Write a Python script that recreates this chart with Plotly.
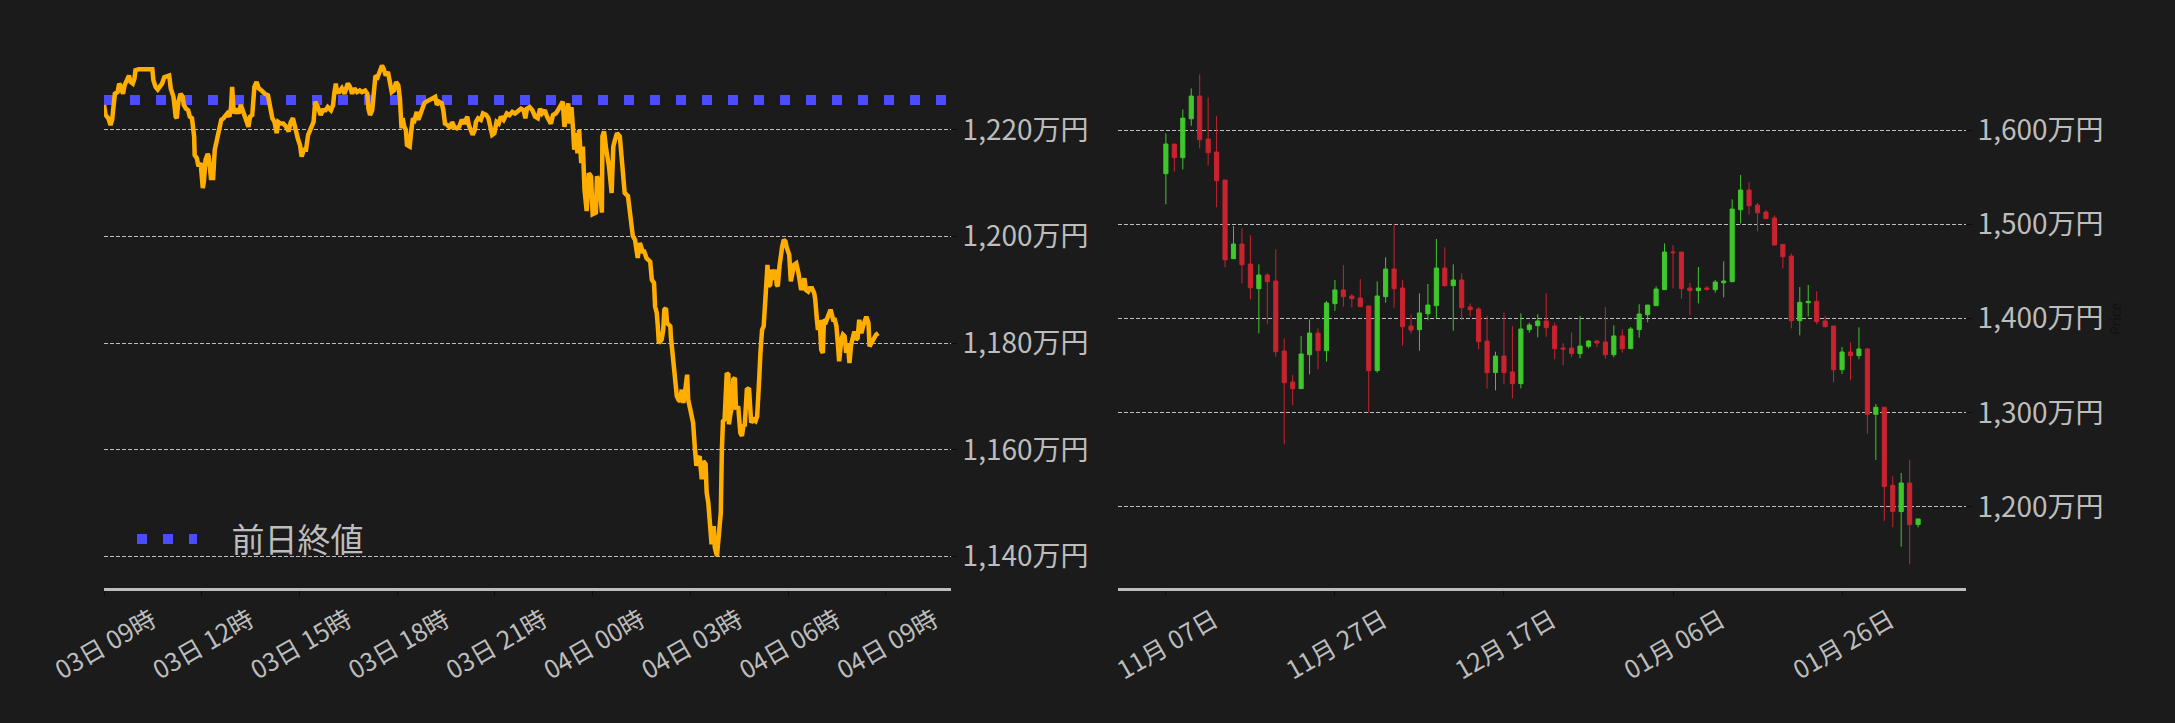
import pandas as pd
import plotly.graph_objects as go

# ---------------- Left panel: intraday price (万円) ----------------
intraday_start = "2026-02-03 09:00"
left_range = ["2026-02-03 09:00", "2026-02-04 11:00"]
prev_close = 1225.6
prev_close_name = "\u00a0\u00a0\u00a0\u00a0前日終値"

line_minutes = [
    0, 3, 8, 12, 15, 18, 20, 25, 28, 31,
    35, 38, 43, 46, 49, 53, 56, 58, 64, 74,
    84, 89, 91, 95, 99, 104, 107, 111, 117, 120,
    123, 128, 132, 134, 137, 141, 145, 147, 151, 155,
    158, 162, 166, 167, 171, 174, 178, 182, 184, 187,
    191, 193, 197, 201, 204, 208, 212, 216, 220, 224,
    227, 231, 234, 236, 239, 243, 248, 252, 256, 260,
    263, 266, 269, 273, 277, 281, 285, 290, 296, 302,
    306, 310, 314, 318, 321, 325, 330, 335, 340, 344,
    348, 353, 357, 361, 364, 368, 372, 376, 381, 386,
    389, 394, 399, 403, 408, 412, 418, 422, 424, 427,
    429, 433, 438, 443, 447, 449, 453, 457, 461, 466,
    471, 475, 481, 485, 487, 490, 494, 498, 500, 504,
    508, 512, 515, 519, 523, 527, 530, 534, 538, 542,
    545, 548, 550, 553, 556, 558, 563, 566, 569, 572,
    576, 579, 582, 586, 590, 593, 599, 605, 610, 613,
    617, 622, 625, 628, 633, 638, 641, 645, 650, 654,
    659, 664, 669, 672, 676, 679, 683, 685, 689, 694,
    698, 704, 708, 712, 715, 719, 723, 727, 731, 736,
    742, 747, 752, 757, 763, 768, 773, 776, 779, 784,
    789, 794, 799, 803, 807, 812, 816, 820, 823, 827,
    832, 836, 840, 845, 848, 852, 855, 858, 861, 864,
    866, 869, 872, 875, 879, 882, 885, 889, 893, 897,
    900, 906, 908, 912, 917, 918, 921, 925, 930, 935,
    938, 941, 945, 950, 953, 956, 959, 965, 969, 974,
    978, 981, 983, 987, 992, 995, 999, 1003, 1006, 1009,
    1013, 1015, 1018, 1020, 1022, 1027, 1030, 1032, 1035, 1037,
    1039, 1043, 1044, 1047, 1049, 1052, 1055, 1058, 1061, 1064,
    1067, 1070, 1074, 1076, 1079, 1082, 1085, 1088, 1091, 1093,
    1097, 1101, 1104, 1108, 1110, 1113, 1116, 1119, 1123, 1125,
    1129, 1131, 1134, 1136, 1138, 1140, 1143, 1145, 1147, 1150,
    1151, 1154, 1157, 1159, 1162, 1164, 1168, 1172, 1175, 1178,
    1180, 1184, 1188, 1190, 1192, 1196, 1200, 1203, 1205, 1207,
    1209, 1212, 1215, 1217, 1219, 1222, 1224, 1227, 1230, 1234,
    1237, 1239, 1241, 1244, 1246, 1249, 1252, 1255, 1257, 1260,
    1262, 1265, 1267, 1271, 1275, 1277, 1279, 1282, 1284, 1288,
    1290, 1293, 1297, 1300, 1304, 1308, 1310, 1313, 1315, 1318,
    1321, 1324, 1326, 1330, 1333, 1337, 1339, 1343, 1346, 1349,
    1352, 1354, 1358, 1361, 1364, 1367, 1370, 1373, 1376, 1380,
    1382, 1385, 1388, 1391, 1395, 1398, 1401, 1404, 1408, 1410,
    1413, 1417, 1419, 1422, 1426,
]

line_price = [
    1224.7, 1222.8, 1222.2, 1220.9, 1221.9, 1224.3, 1226.8, 1227.1, 1228.7, 1228.1,
    1226.8, 1228.4, 1229.6, 1230.2, 1229.0, 1228.7, 1229.6, 1231.2, 1231.4, 1231.4,
    1231.4, 1231.4, 1229.3, 1228.1, 1227.6, 1228.4, 1228.7, 1229.9, 1230.2, 1230.2,
    1227.8, 1226.2, 1222.5, 1222.2, 1225.3, 1226.8, 1226.2, 1224.7, 1224.0, 1223.7,
    1222.5, 1222.2, 1218.8, 1215.3, 1214.7, 1213.2, 1213.8, 1209.1, 1210.4, 1214.4,
    1215.5, 1215.0, 1211.0, 1211.0, 1216.3, 1218.1, 1220.3, 1221.9, 1222.2, 1222.8,
    1223.1, 1222.5, 1224.3, 1228.1, 1223.1, 1224.0, 1223.1, 1224.7, 1223.7, 1222.5,
    1221.5, 1220.6, 1222.5, 1222.8, 1228.1, 1229.0, 1227.8, 1227.4, 1226.8, 1226.5,
    1224.0, 1222.2, 1221.5, 1219.4, 1221.5, 1221.2, 1221.2, 1220.7, 1219.7, 1221.5,
    1222.2, 1219.7, 1218.4, 1217.2, 1215.0, 1216.3, 1216.3, 1219.1, 1220.6, 1221.5,
    1225.3, 1224.3, 1222.8, 1223.7, 1223.7, 1224.3, 1223.7, 1224.7, 1226.8, 1228.7,
    1227.1, 1227.1, 1227.8, 1226.8, 1228.1, 1228.7, 1228.1, 1226.8, 1227.8, 1227.1,
    1227.4, 1227.1, 1227.4, 1226.8, 1224.0, 1222.8, 1223.7, 1227.4, 1230.2, 1229.9,
    1230.9, 1232.1, 1231.5, 1230.2, 1230.9, 1228.7, 1227.1, 1227.4, 1229.0, 1228.4,
    1225.9, 1220.3, 1222.2, 1220.6, 1220.0, 1217.2, 1216.9, 1220.0, 1222.2, 1221.9,
    1223.4, 1221.9, 1222.8, 1224.3, 1225.0, 1225.3, 1225.6, 1225.9, 1226.2, 1224.7,
    1225.3, 1225.0, 1223.7, 1221.2, 1220.9, 1220.3, 1221.5, 1220.6, 1220.3, 1220.6,
    1221.9, 1221.2, 1222.5, 1220.9, 1220.0, 1219.1, 1220.0, 1221.5, 1222.2, 1221.9,
    1223.1, 1222.8, 1222.2, 1220.6, 1219.1, 1219.4, 1221.5, 1221.2, 1222.5, 1221.9,
    1223.1, 1222.8, 1223.4, 1223.1, 1223.7, 1224.0, 1223.7, 1222.2, 1224.0, 1224.3,
    1223.7, 1222.5, 1222.2, 1224.0, 1223.1, 1223.7, 1222.5, 1221.9, 1221.2, 1222.8,
    1223.1, 1223.7, 1224.3, 1225.3, 1220.6, 1223.7, 1225.0, 1221.2, 1224.3, 1220.0,
    1216.3, 1219.4, 1215.6, 1220.0, 1213.8, 1216.9, 1208.8, 1204.8, 1211.9, 1211.3,
    1204.2, 1204.5, 1211.3, 1210.4, 1204.5, 1218.8, 1219.7, 1216.3, 1213.2, 1208.2,
    1216.9, 1218.1, 1219.4, 1218.8, 1214.4, 1211.3, 1208.2, 1207.6, 1203.9, 1200.1,
    1199.4, 1197.5, 1196.0, 1198.8, 1197.2, 1197.2, 1196.0, 1195.6, 1195.3, 1191.9,
    1191.3, 1186.9, 1185.7, 1183.2, 1180.0, 1180.7, 1182.5, 1186.3, 1186.6, 1183.8,
    1183.5, 1183.2, 1181.3, 1178.2, 1174.4, 1171.9, 1170.1, 1169.4, 1169.1, 1171.3,
    1168.8, 1170.7, 1174.1, 1169.4, 1167.6, 1165.7, 1165.1, 1160.7, 1157.0, 1158.2,
    1158.8, 1154.5, 1157.9, 1157.3, 1152.0, 1150.1, 1146.0, 1142.3, 1145.7, 1141.7,
    1140.1, 1142.6, 1147.0, 1148.2, 1160.1, 1165.4, 1165.7, 1169.4, 1174.4, 1174.1,
    1164.8, 1166.9, 1168.2, 1173.2, 1173.5, 1167.6, 1168.2, 1163.2, 1162.6, 1164.8,
    1164.4, 1171.3, 1171.6, 1168.2, 1165.1, 1165.7, 1165.4, 1166.3, 1172.6, 1173.8,
    1178.2, 1182.5, 1183.2, 1188.2, 1189.7, 1194.7, 1190.7, 1191.0, 1193.8, 1191.9,
    1193.8, 1191.0, 1190.7, 1194.4, 1196.3, 1198.1, 1199.4, 1199.1, 1198.1, 1197.2,
    1196.6, 1191.6, 1192.5, 1194.7, 1195.0, 1194.4, 1193.2, 1191.3, 1190.0, 1191.0,
    1192.2, 1190.0, 1189.7, 1190.3, 1190.3, 1189.4, 1188.2, 1184.4, 1182.5, 1184.4,
    1178.8, 1178.2, 1184.4, 1184.1, 1185.0, 1186.0, 1186.0, 1184.4, 1184.4, 1183.2,
    1179.4, 1176.6, 1180.7, 1181.6, 1181.3, 1178.2, 1180.0, 1176.3, 1179.7, 1181.3,
    1182.2, 1180.7, 1181.0, 1184.4, 1181.9, 1183.2, 1184.1, 1185.0, 1183.8, 1179.4,
    1180.0, 1180.7, 1181.3, 1181.6, 1181.9,
]

left_y_range = [1134.1, 1235.0]
left_y_tick0, left_y_dtick = 1140, 20

# ---------------- Right panel: daily candles (万円) ----------------
candle_start = "2025-11-07"
candle_open = [
    1553.7, 1585.2, 1570.7, 1612.0, 1636.1, 1590.5, 1576.7, 1547.0, 1463.5, 1479.1,
    1457.8, 1431.7, 1446.2, 1439.8, 1365.5, 1332.6, 1325.6, 1361.6, 1384.6, 1365.9,
    1415.8, 1430.3, 1423.9, 1421.8, 1413.3, 1344.7, 1423.2, 1452.5, 1432.4, 1392.1,
    1388.2, 1405.1, 1413.6, 1453.6, 1434.9, 1440.9, 1412.2, 1410.1, 1376.1, 1342.6,
    1360.2, 1343.3, 1330.9, 1388.2, 1392.4, 1397.4, 1392.1, 1368.7, 1368.7, 1362.7,
    1370.5, 1376.1, 1375.1, 1361.6, 1381.5, 1368.0, 1388.2, 1404.1, 1413.6, 1430.6,
    1470.6, 1470.6, 1432.4, 1429.6, 1432.4, 1430.6, 1438.0, 1439.1, 1515.5, 1536.4,
    1520.4, 1513.0, 1506.7, 1478.7, 1466.3, 1397.7, 1416.8, 1418.2, 1397.4, 1392.1,
    1345.7, 1364.5, 1360.6, 1367.7, 1298.3, 1305.8, 1223.0, 1195.1, 1225.5, 1181.3,
]
candle_high = [
    1596.5, 1585.2, 1621.9, 1644.2, 1659.1, 1634.7, 1614.9, 1547.0, 1498.2, 1495.7,
    1488.3, 1457.5, 1448.0, 1473.4, 1379.0, 1340.1, 1381.4, 1399.1, 1389.6, 1418.6,
    1440.9, 1456.8, 1426.0, 1441.9, 1413.3, 1439.5, 1464.9, 1500.3, 1440.9, 1404.5,
    1426.7, 1436.6, 1484.4, 1475.5, 1457.5, 1448.0, 1416.1, 1411.9, 1403.0, 1364.8,
    1406.6, 1392.1, 1405.5, 1395.6, 1404.5, 1426.7, 1395.6, 1373.7, 1385.3, 1402.7,
    1377.2, 1377.2, 1411.9, 1392.8, 1388.5, 1391.0, 1415.1, 1414.3, 1434.1, 1479.8,
    1477.7, 1470.6, 1437.7, 1454.7, 1434.5, 1440.9, 1460.7, 1526.5, 1552.3, 1544.8,
    1522.6, 1515.1, 1509.5, 1478.7, 1469.2, 1433.4, 1435.6, 1428.8, 1402.7, 1392.1,
    1369.8, 1374.7, 1390.7, 1368.7, 1309.3, 1305.8, 1232.5, 1236.1, 1249.9, 1187.3,
]
candle_low = [
    1521.2, 1555.8, 1558.3, 1604.6, 1580.6, 1562.5, 1518.0, 1454.3, 1463.5, 1437.3,
    1420.4, 1384.3, 1393.8, 1359.5, 1266.5, 1307.9, 1325.6, 1340.8, 1346.1, 1354.2,
    1408.3, 1412.6, 1411.9, 1412.6, 1300.1, 1342.6, 1416.8, 1411.5, 1371.2, 1384.3,
    1365.9, 1398.1, 1400.2, 1433.8, 1387.1, 1398.1, 1402.0, 1367.3, 1325.6, 1323.8,
    1330.2, 1315.3, 1325.9, 1385.0, 1380.0, 1380.7, 1356.7, 1350.3, 1358.8, 1357.8,
    1368.4, 1369.4, 1357.4, 1358.8, 1363.8, 1368.0, 1379.7, 1395.9, 1413.6, 1430.6,
    1432.0, 1421.1, 1403.4, 1416.1, 1429.6, 1427.4, 1422.5, 1439.1, 1501.0, 1510.5,
    1492.5, 1506.0, 1478.0, 1453.2, 1389.6, 1382.2, 1402.0, 1393.8, 1390.3, 1332.3,
    1341.1, 1334.4, 1356.7, 1277.8, 1249.9, 1185.2, 1178.4, 1157.9, 1139.2, 1178.4,
]
candle_close = [
    1585.2, 1570.7, 1612.7, 1636.1, 1589.8, 1576.0, 1546.3, 1462.4, 1479.1, 1457.1,
    1432.7, 1446.2, 1439.1, 1364.8, 1331.9, 1325.6, 1362.4, 1384.6, 1365.9, 1416.5,
    1430.3, 1423.2, 1421.1, 1412.6, 1344.7, 1423.9, 1452.5, 1431.7, 1391.3, 1387.8,
    1405.9, 1414.3, 1453.6, 1434.9, 1440.9, 1411.5, 1409.4, 1375.4, 1342.6, 1360.2,
    1342.6, 1330.9, 1388.9, 1393.1, 1397.4, 1390.3, 1368.0, 1367.6, 1362.7, 1370.8,
    1376.1, 1374.0, 1361.6, 1381.5, 1368.0, 1388.9, 1404.8, 1414.3, 1431.3, 1470.6,
    1469.9, 1431.7, 1429.6, 1432.4, 1431.0, 1438.7, 1439.8, 1516.2, 1536.4, 1519.7,
    1512.3, 1506.0, 1478.0, 1465.6, 1397.7, 1417.2, 1418.2, 1396.7, 1391.4, 1345.7,
    1364.5, 1360.6, 1367.7, 1298.3, 1305.8, 1221.6, 1195.1, 1225.5, 1181.3, 1187.3,
]
right_range = ["2025-11-01 08:00", "2026-02-09 16:00"]
right_y_range = [1114.0, 1685.0]
right_y_tick0, right_y_dtick = 1200, 100

# ---------------- styling ----------------
BG = "#1b1b1b"
TXT = "#bdbdbd"
FONT = "Noto Sans CJK JP"
ORANGE = "#ffae00"
BLUE = "#4b4bff"
GREEN = "#3fc72c"
RED = "#c8232f"
W, H = 2175, 723

line_times = pd.Timestamp(intraday_start) + pd.to_timedelta(line_minutes, unit="min")
candle_dates = pd.date_range(candle_start, periods=len(candle_open), freq="D")

fig = go.Figure()
fig.add_trace(go.Scatter(
    x=left_range, y=[prev_close, prev_close], mode="lines", name=prev_close_name,
    line=dict(color=BLUE, width=10, dash="10px,16px"),
    xaxis="x", yaxis="y", hoverinfo="skip", showlegend=True,
))
fig.add_trace(go.Scatter(
    x=line_times, y=line_price, mode="lines", name="price",
    line=dict(color=ORANGE, width=4.5), xaxis="x", yaxis="y", showlegend=False,
))
fig.add_trace(go.Candlestick(
    x=candle_dates, open=candle_open, high=candle_high, low=candle_low, close=candle_close,
    increasing=dict(line=dict(color=GREEN, width=1), fillcolor=GREEN),
    decreasing=dict(line=dict(color=RED, width=1), fillcolor=RED),
    xaxis="x2", yaxis="y2", showlegend=False, name="daily",
))

xcommon = dict(
    type="date", showgrid=False, zeroline=False, showline=True, linecolor=TXT, linewidth=3,
    ticks="outside", ticklen=5, tickwidth=1, tickcolor="#0a0a0a", tickangle=-30,
    tickfont=dict(family=FONT, size=25, color=TXT), automargin=False, ticklabelshift=48,
)
ycommon = dict(
    side="right", showgrid=True, gridcolor=TXT, gridwidth=1, griddash="4px,2px",
    zeroline=False, showline=False, ticks="outside", ticklen=5, tickcolor="#0a0a0a",
    tickformat=",d", ticksuffix="万円", showticksuffix="all", tickmode="linear",
    tickfont=dict(family=FONT, size=28, color=TXT), automargin=False,
)

fig.update_layout(
    width=W, height=H,
    paper_bgcolor=BG, plot_bgcolor=BG,
    margin=dict(l=0, r=0, t=50, b=135),
    font=dict(family=FONT, color=TXT),
    xaxis=dict(xcommon, domain=[104 / W, 951 / W], anchor="y", range=left_range,
               tick0=left_range[0], dtick=3 * 3600 * 1000, tickformat="%d日 %H時"),
    yaxis=dict(ycommon, anchor="x", range=left_y_range, tick0=left_y_tick0, dtick=left_y_dtick),
    xaxis2=dict(xcommon, domain=[1118 / W, 1966 / W], anchor="y2", range=right_range,
                tick0=candle_start, dtick=20 * 86400 * 1000, tickformat="%m月 %d日",
                rangeslider=dict(visible=False)),
    yaxis2=dict(ycommon, anchor="x2", range=right_y_range, tick0=right_y_tick0, dtick=right_y_dtick,
                title=dict(text="Price", font=dict(family=FONT, size=14, color="#111111"),
                           standoff=8)),
    legend=dict(x=132 / W, y=(588 - 539) / 538, xanchor="left", yanchor="middle",
                bgcolor="rgba(0,0,0,0)", font=dict(family=FONT, size=33, color=TXT),
                itemwidth=60),
    showlegend=True,
)

fig.write_html(
    "out.html",
    config={"displayModeBar": False},
    post_script="document.body.style.margin='0';document.body.style.background='%s';" % BG,
)
